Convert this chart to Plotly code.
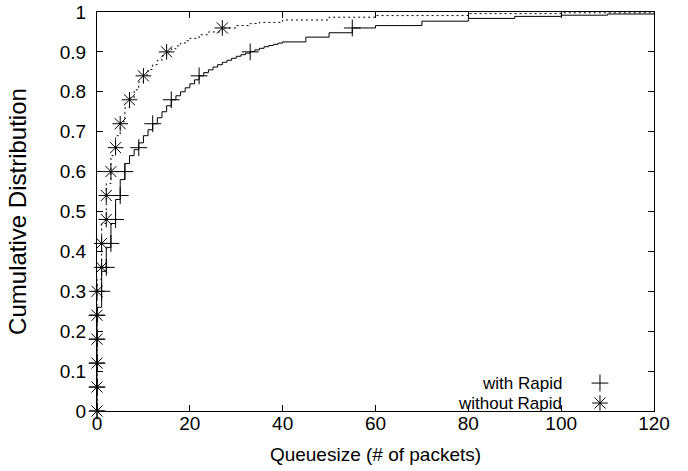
import plotly.graph_objects as go

# ---- data ----
# CDF step curve, "with Rapid" (queue size, cumulative fraction)
with_x = [0, 0, 1, 2, 3, 4, 5, 6, 7, 8, 9, 10, 11, 12, 13, 14, 15, 16, 17, 18, 19, 20,
          21, 22, 23, 24, 25, 26, 27, 28, 29, 30, 31, 32, 33, 34, 35, 36, 37, 38, 39, 40,
          45, 50, 55, 60, 70, 80, 90, 100, 110, 120]
with_y = [0, 0.26, 0.35, 0.41, 0.47, 0.53, 0.58, 0.62, 0.64, 0.655, 0.672, 0.69, 0.705,
          0.72, 0.735, 0.75, 0.765, 0.78, 0.79, 0.80, 0.81, 0.82, 0.83, 0.84, 0.848, 0.855,
          0.862, 0.868, 0.874, 0.879, 0.884, 0.889, 0.893, 0.897, 0.901, 0.905, 0.909,
          0.913, 0.916, 0.919, 0.922, 0.925, 0.937, 0.948, 0.96, 0.966, 0.977, 0.984,
          0.989, 0.992, 0.995, 0.997]

# CDF step curve, "without Rapid"
without_x = [0, 0, 1, 2, 3, 4, 5, 6, 7, 8, 9, 10, 11, 12, 13, 14, 15, 16, 17, 18, 19, 20,
             22, 24, 27, 30, 33, 35, 40, 50, 60, 80, 100, 120]
without_y = [0, 0.33, 0.47, 0.57, 0.64, 0.69, 0.725, 0.76, 0.785, 0.805, 0.825, 0.842,
             0.856, 0.868, 0.879, 0.89, 0.90, 0.908, 0.915, 0.922, 0.928, 0.934, 0.943,
             0.95, 0.96, 0.966, 0.971, 0.974, 0.98, 0.987, 0.991, 0.996, 0.998, 0.999]

# point markers drawn every 0.06 of the distribution
mark_levels = [0, 0.06, 0.12, 0.18, 0.24, 0.30, 0.36, 0.42, 0.48, 0.54, 0.60, 0.66,
               0.72, 0.78, 0.84, 0.90, 0.96]
with_mark_x = [0, 0, 0, 0, 0, 1, 2, 3, 4, 5, 6, 9, 12, 16, 22, 33, 55]
without_mark_x = [0, 0, 0, 0, 0, 0, 1, 1, 2, 2, 3, 4, 5, 7, 10, 15, 27]

series_names = ["with Rapid", "without Rapid"]
x_ticks = [0, 20, 40, 60, 80, 100, 120]
y_ticks = [0, 0.1, 0.2, 0.3, 0.4, 0.5, 0.6, 0.7, 0.8, 0.9, 1]
y_tick_text = ["0", "0.1", "0.2", "0.3", "0.4", "0.5", "0.6", "0.7", "0.8", "0.9", "1"]

FONT = "Liberation Sans, Arial, sans-serif"
FS = 19

fig = go.Figure()

fig.add_trace(go.Scatter(x=with_x, y=with_y, mode="lines",
                         line=dict(color="black", width=1, shape="hv"),
                         showlegend=False, hoverinfo="skip"))
fig.add_trace(go.Scatter(x=without_x, y=without_y, mode="lines",
                         line=dict(color="black", width=1, shape="hv", dash="2px,3px"),
                         showlegend=False, hoverinfo="skip"))
fig.add_trace(go.Scatter(x=with_mark_x, y=mark_levels, mode="markers",
                         marker=dict(symbol="cross-thin-open", size=12, color="black",
                                     line=dict(width=1, color="black")),
                         cliponaxis=False, showlegend=False))
fig.add_trace(go.Scatter(x=without_mark_x, y=mark_levels, mode="markers",
                         marker=dict(symbol="asterisk-open", size=13, color="black",
                                     line=dict(width=1, color="black")),
                         cliponaxis=False, showlegend=False))

# legend glyphs (gnuplot style: text then symbol) on an overlay [0,1] axis pair
leg_gx = 0.903
leg_gy = [0.070, 0.020]
fig.add_trace(go.Scatter(x=[leg_gx], y=[leg_gy[0]], xaxis="x2", yaxis="y2", mode="markers",
                         marker=dict(symbol="cross-thin-open", size=12, color="black",
                                     line=dict(width=1, color="black")),
                         showlegend=False, hoverinfo="skip", cliponaxis=False))
fig.add_trace(go.Scatter(x=[leg_gx], y=[leg_gy[1]], xaxis="x2", yaxis="y2", mode="markers",
                         marker=dict(symbol="asterisk-open", size=13, color="black",
                                     line=dict(width=1, color="black")),
                         showlegend=False, hoverinfo="skip", cliponaxis=False))

for name, gy in zip(series_names, leg_gy):
    fig.add_annotation(x=0.838, y=gy, xref="paper", yref="paper", text=name,
                       showarrow=False, xanchor="right", yanchor="middle",
                       font=dict(family=FONT, size=17, color="black"))

axis_common = dict(showgrid=False, zeroline=False, showline=True, linecolor="black",
                   linewidth=1, mirror="ticks", ticks="inside", ticklen=6,
                   tickcolor="black", tickwidth=1, automargin=False,
                   ticklabeloverflow="allow",
                   tickfont=dict(family=FONT, size=FS, color="black"))

fig.update_layout(
    width=688, height=471,
    margin=dict(l=97, r=34, t=12, b=60),
    paper_bgcolor="white", plot_bgcolor="white",
    showlegend=False,
    xaxis=dict(range=[0, 120], tickvals=x_ticks, ticklabelstandoff=-5,
               title=dict(text="Queuesize (# of packets)", standoff=14,
                          font=dict(family=FONT, size=FS, color="black")),
               **axis_common),
    yaxis=dict(range=[0, 1], tickvals=y_ticks, ticktext=y_tick_text, ticklabelstandoff=6,
               title=dict(text="Cumulative Distribution", standoff=26,
                          font=dict(family=FONT, size=24, color="black")),
               **axis_common),
    xaxis2=dict(range=[0, 1], overlaying="x", visible=False),
    yaxis2=dict(range=[0, 1], overlaying="y", visible=False),
)

# remove the browser's default 8px body margin so the figure fills the window exactly
fig.write_html("out.html", config={"displayModeBar": False},
               post_script="document.body.style.margin='0';")
